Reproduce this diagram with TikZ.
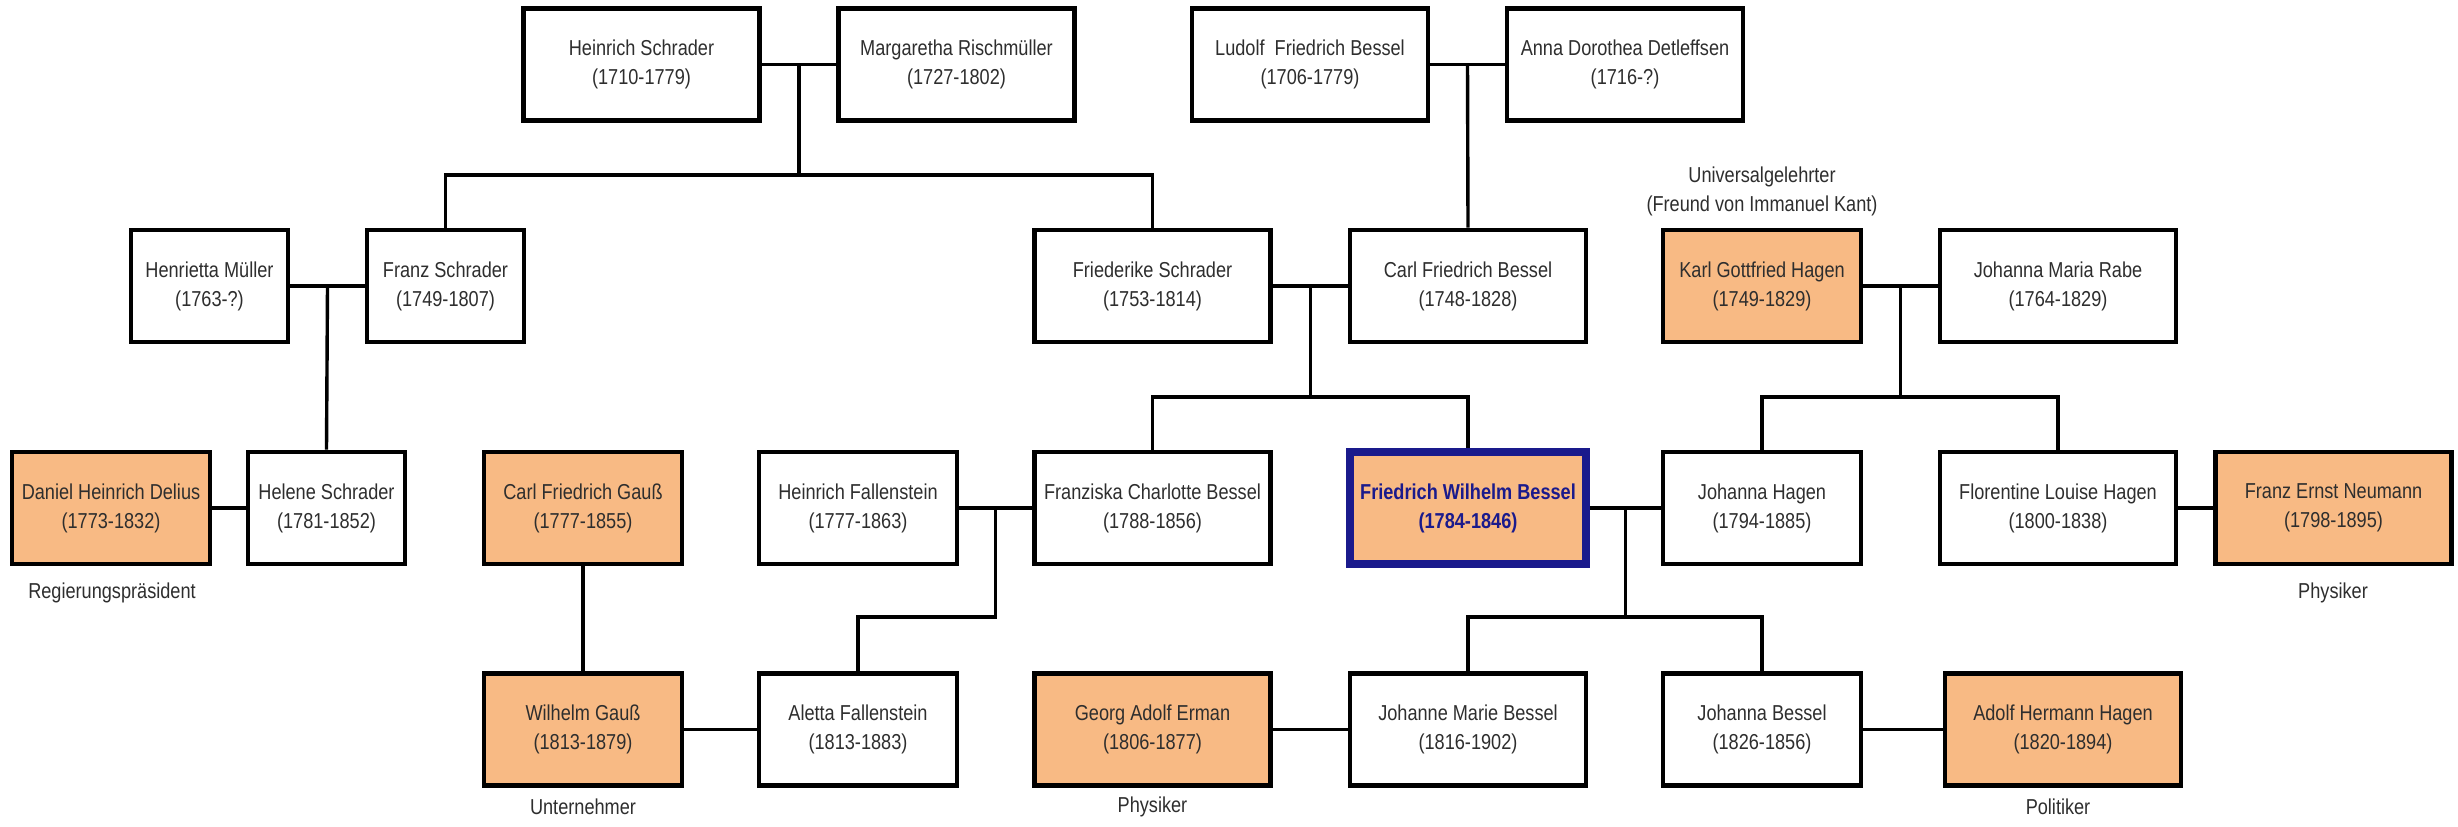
\documentclass[tikz,border=0pt]{standalone}
\usepackage{fontspec}
\setmainfont{Liberation Sans}[FakeStretch=0.84]
\usetikzlibrary{calc}
\definecolor{boxorange}{HTML}{F8BA84}
\definecolor{navyblue}{HTML}{1A1A8C}
\definecolor{txt}{HTML}{2E2E2E}
\begin{document}
\begin{tikzpicture}[x=0.5pt,y=-0.5pt,
  person/.style={draw=black, line width=2.3pt, fill=white, minimum height=56pt, inner sep=0pt,
    align=center, text=txt, font=\fontsize{10.8}{14.5}\selectfont},
  widebox/.style={person, minimum width=118pt},
  midbox/.style={person, minimum width=99pt},
  narrowbox/.style={person, minimum width=78.5pt},
  famous/.style={fill=boxorange},
  hero/.style={widebox, famous, draw=navyblue, line width=3.8pt, text=navyblue,
    font=\fontsize{10.8}{14.5}\selectfont\bfseries},
  notetext/.style={text=txt, align=center, inner sep=0pt, font=\fontsize{10.8}{14.5}\selectfont},
  link/.style={line width=1.7pt, draw=black}
]
\fill[white] (0,0) rectangle (2458,826);
\useasboundingbox (0,0) rectangle (2458,826);

% Row 1
\node[widebox] (hs) at (641.5,64.5) {Heinrich Schrader\\(1710-1779)};
\node[widebox] (mr) at (956.5,64.5) {Margaretha Rischmüller\\(1727-1802)};
\node[widebox] (lfb) at (1310,64.5) {Ludolf~ Friedrich Bessel\\(1706-1779)};
\node[widebox] (add) at (1625,64.5) {Anna Dorothea Detleffsen\\(1716-?)};

% Row 2
\node[narrowbox] (hm) at (209.5,286) {Henrietta Müller\\(1763-?)};
\node[narrowbox] (fs) at (445.5,286) {Franz Schrader\\(1749-1807)};
\node[widebox] (fri) at (1152.5,286) {Friederike Schrader\\(1753-1814)};
\node[widebox] (cfb) at (1468,286) {Carl Friedrich Bessel\\(1748-1828)};
\node[midbox, famous] (kgh) at (1762,286) {Karl Gottfried Hagen\\(1749-1829)};
\node[widebox] (jmr) at (2058,286) {Johanna Maria Rabe\\(1764-1829)};
\node[notetext] (kghnote) at (1762,191) {Universalgelehrter\\(Freund von Immanuel Kant)};

% Row 3
\node[midbox, famous] (dhd) at (111,508) {Daniel Heinrich Delius\\(1773-1832)};
\node[narrowbox] (hel) at (326.5,508) {Helene Schrader\\(1781-1852)};
\node[midbox, famous] (cfg) at (583,508) {Carl Friedrich Gauß\\(1777-1855)};
\node[midbox] (hf) at (858,508) {Heinrich Fallenstein\\(1777-1863)};
\node[widebox] (fcb) at (1152.5,508) {Franziska Charlotte Bessel\\(1788-1856)};
\node[hero] (fwb) at (1468,508) {Friedrich Wilhelm Bessel\\(1784-1846)};
\node[midbox] (jh) at (1762,508) {Johanna Hagen\\(1794-1885)};
\node[widebox] (flh) at (2058,508) {Florentine Louise Hagen\\(1800-1838)};
\node[widebox, famous] (fen) at (2333.5,508) {Franz Ernst Neumann\\(1798-1895)};
\node[notetext] (dhdnote) at (112,593) {Regierungspräsident};
\node[notetext] (fennote) at (2333,593) {Physiker};

% Row 4
\node[midbox, famous] (wg) at (583,729.5) {Wilhelm Gauß\\(1813-1879)};
\node[midbox] (af) at (858,729.5) {Aletta Fallenstein\\(1813-1883)};
\node[widebox, famous] (gae) at (1152.5,729.5) {Georg Adolf Erman\\(1806-1877)};
\node[widebox] (jmb) at (1468,729.5) {Johanne Marie Bessel\\(1816-1902)};
\node[midbox] (jb) at (1762,729.5) {Johanna Bessel\\(1826-1856)};
\node[widebox, famous] (ahh) at (2063,729.5) {Adolf Hermann Hagen\\(1820-1894)};
\node[notetext] (wgnote) at (583,807) {Unternehmer};
\node[notetext] (gaenote) at (1152.5,807) {Physiker};
\node[notetext] (ahhnote) at (2058,807) {Politiker};

% bus levels
\coordinate (bus1) at (0,175);
\coordinate (bus2) at (0,397);
\coordinate (bus3) at (0,617);

% marriage junctions
\coordinate (m1) at ($(hs.east)!.5!(mr.west)$);
\coordinate (m2) at ($(lfb.east)!.5!(add.west)$);
\coordinate (m3) at ($(hm.east)!.5!(fs.west)$);
\coordinate (m4) at ($(fri.east)!.5!(cfb.west)$);
\coordinate (m5) at ($(kgh.east)!.5!(jmr.west)$);
\coordinate (m6) at ($(hf.east)!.5!(fcb.west)$);
\coordinate (m7) at ($(fwb.east)!.5!(jh.west)$);

\begin{scope}[link]
\draw (hs) -- (mr);
\draw (m1) -- (m1 |- bus1);
\draw (fs.north) -- (fs.north |- bus1) -| (fri.north);

\draw (lfb) -- (add);
\draw (m2) -- (cfb.north);

\draw (hm) -- (fs);
\draw (m3) -- (hel.north);

\draw (fri) -- (cfb);
\draw (m4) -- (m4 |- bus2);
\draw (fcb.north) -- (fcb.north |- bus2) -| (fwb.north);

\draw (kgh) -- (jmr);
\draw (m5) -- (m5 |- bus2);
\draw (jh.north) -- (jh.north |- bus2) -| (flh.north);

\draw (dhd) -- (hel);
\draw (cfg) -- (wg);

\draw (hf) -- (fcb);
\draw (m6) -- (m6 |- bus3) -| (af.north);

\draw (fwb) -- (jh);
\draw (m7) -- (m7 |- bus3);
\draw (jmb.north) -- (jmb.north |- bus3) -| (jb.north);

\draw (flh) -- (fen);
\draw (wg) -- (af);
\draw (gae) -- (jmb);
\draw (jb) -- (ahh);
\end{scope}
\end{tikzpicture}
\end{document}
